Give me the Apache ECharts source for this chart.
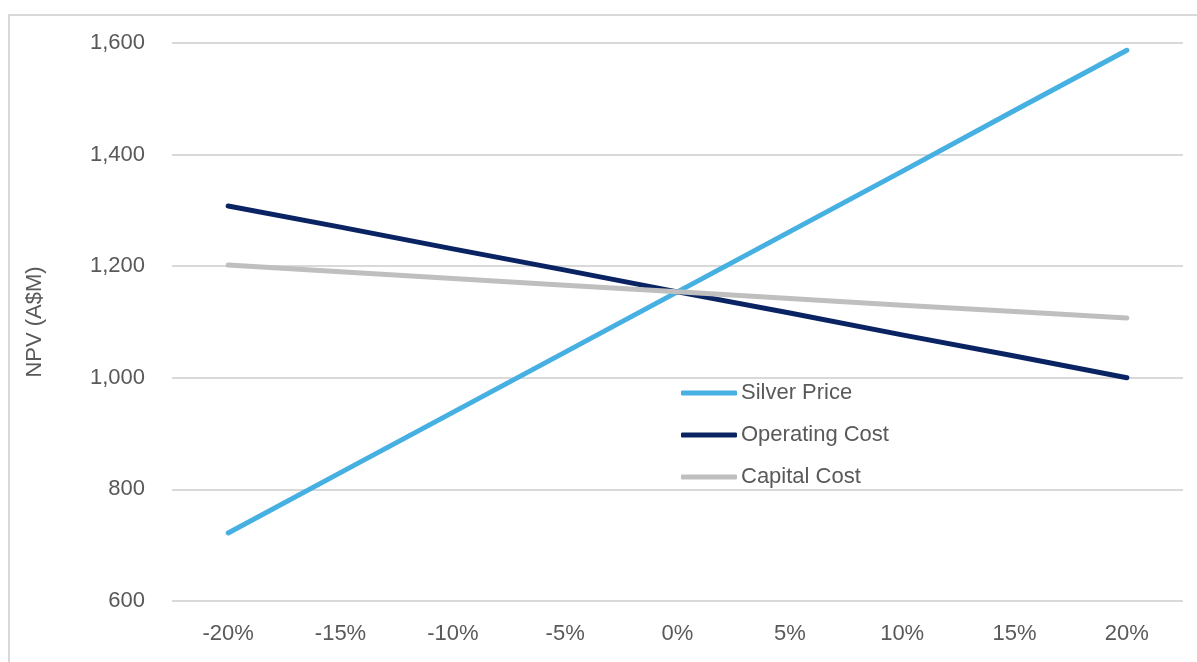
<!DOCTYPE html>
<html>
<head>
<meta charset="utf-8">
<script src="https://cdn.jsdelivr.net/npm/echarts@6/dist/echarts.min.js"></script>
<style>
html,body{margin:0;padding:0;background:#fff;}
#frame{position:absolute;left:8px;top:14px;width:1300px;height:700px;border-left:2px solid #d9d9d9;border-top:2px solid #d9d9d9;box-sizing:border-box;}
#chart{position:absolute;left:0;top:0;width:1197px;height:662px;}
</style>
</head>
<body>
<div id="frame"></div>
<div id="chart"></div>
<script>
const categories = ['-20%','-15%','-10%','-5%','0%','5%','10%','15%','20%'];
const silverPrice = [722, 830, 938, 1046, 1154, 1262, 1370, 1479, 1587];
const operatingCost = [1308, 1270, 1231, 1193, 1154, 1116, 1077, 1039, 1000];
const capitalCost = [1202, 1190, 1178, 1166, 1154, 1142, 1130, 1119, 1107];
const yTicks = {min: 600, max: 1600, interval: 200};

const font = '"Liberation Sans", Arial, sans-serif';
const chart = echarts.init(document.getElementById('chart'), null, {renderer: 'canvas'});
const mk = (name, data, color) => ({
  name, type: 'line', data, symbol: 'none', smooth: false,
  lineStyle: {width: 5, color, cap: 'round', join: 'round'},
  itemStyle: {color}, z: 3
});
chart.setOption({
  animation: false,
  backgroundColor: 'transparent',
  grid: {left: 172, right: 14, top: 43, bottom: 61, containLabel: false},
  xAxis: {
    type: 'category', data: categories, boundaryGap: true,
    axisLine: {show: false}, axisTick: {show: false},
    axisLabel: {color: '#595959', fontSize: 22, fontFamily: font, margin: 22}
  },
  yAxis: {
    type: 'value', min: yTicks.min, max: yTicks.max, interval: yTicks.interval,
    name: 'NPV (A$M)', nameLocation: 'middle', nameGap: 126, nameRotate: 90,
    nameTextStyle: {color: '#595959', fontSize: 22, fontFamily: font},
    axisLine: {show: false}, axisTick: {show: false},
    axisLabel: {color: '#595959', fontSize: 22, fontFamily: font, margin: 27,
      padding: [3, 0, 0, 0],
      formatter: v => v.toLocaleString('en-US')},
    splitLine: {lineStyle: {color: '#d9d9d9', width: 2}}
  },
  legend: {
    orient: 'vertical', left: 676, top: 377, itemGap: 20,
    itemWidth: 56, itemHeight: 5,
    textStyle: {color: '#595959', fontSize: 22, fontFamily: font, padding: [0,0,0,-1]},
    data: [
      {name: 'Silver Price', icon: 'roundRect'},
      {name: 'Operating Cost', icon: 'roundRect'},
      {name: 'Capital Cost', icon: 'roundRect'}
    ]
  },
  series: [
    mk('Silver Price', silverPrice, '#45b0e1'),
    mk('Operating Cost', operatingCost, '#0a2463'),
    mk('Capital Cost', capitalCost, '#bfbfbf')
  ]
});
</script>
</body>
</html>
